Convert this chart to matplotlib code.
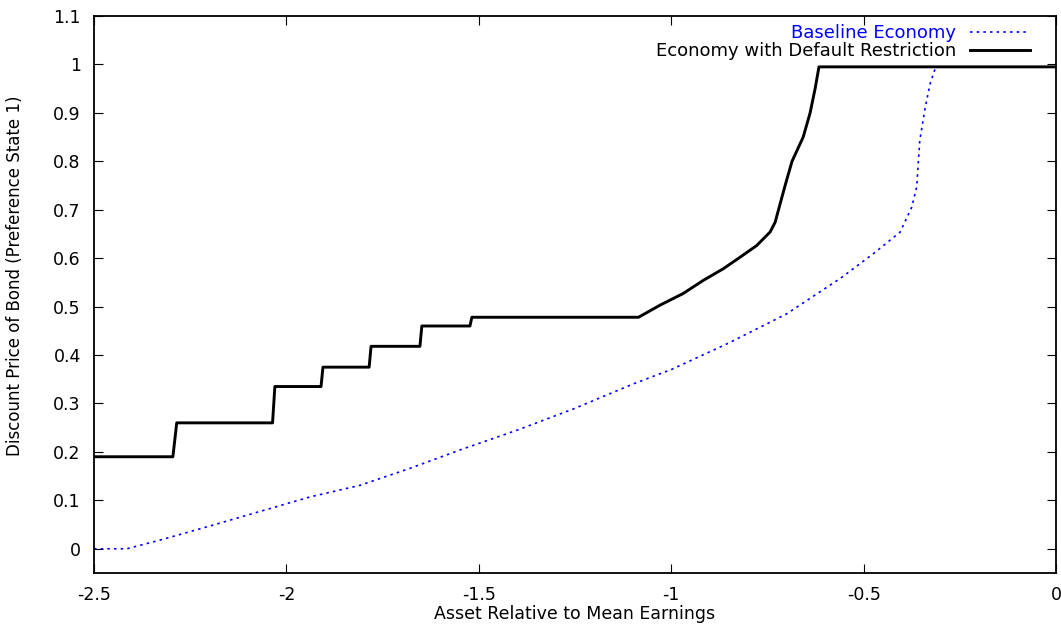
import matplotlib
matplotlib.use("Agg")
import matplotlib.pyplot as plt

plt.rcParams['font.family'] = ['DejaVu Sans']

# baseline economy (blue dotted)
base_x = [-2.5, -2.415, -2.328, -2.199, -2.069, -1.939, -1.809, -1.679, -1.549,
          -1.40, -1.25, -1.10, -1.0, -0.85, -0.70, -0.561, -0.475, -0.405,
          -0.375, -0.362, -0.354, -0.340, -0.327, -0.316, -0.31, 0.0]
base_y = [0.0, 0.0, 0.018, 0.047, 0.077, 0.107, 0.131, 0.166, 0.204,
          0.245, 0.29, 0.34, 0.37, 0.425, 0.485, 0.558, 0.609, 0.654,
          0.705, 0.747, 0.843, 0.911, 0.960, 0.987, 0.995, 0.995]

# economy with default restriction (black solid)
restr_x = [-2.5, -2.295, -2.285, -2.036, -2.03, -1.91, -1.905, -1.785, -1.78,
           -1.653, -1.648, -1.523, -1.518, -1.085, -1.029, -0.969, -0.917,
           -0.865, -0.821, -0.778, -0.743, -0.730, -0.717, -0.704, -0.686,
           -0.657, -0.639, -0.626, -0.616, 0.0]
restr_y = [0.19, 0.19, 0.26, 0.26, 0.335, 0.335, 0.375, 0.375, 0.418,
           0.418, 0.46, 0.46, 0.478, 0.478, 0.503, 0.527, 0.554,
           0.578, 0.602, 0.626, 0.654, 0.674, 0.712, 0.75, 0.80,
           0.85, 0.90, 0.95, 0.995, 0.995]

xticks = [-2.5, -2, -1.5, -1, -0.5, 0]
xtick_labels = ['-2.5', '-2', '-1.5', '-1', '-0.5', '0']
yticks = [0, 0.1, 0.2, 0.3, 0.4, 0.5, 0.6, 0.7, 0.8, 0.9, 1, 1.1]
ytick_labels = ['0', '0.1', '0.2', '0.3', '0.4', '0.5', '0.6', '0.7', '0.8', '0.9', '1', '1.1']

fig = plt.figure(figsize=(10.61, 6.27), dpi=100)
ax = fig.add_axes([94/1061, 54/627, 962/1061, 557/627])

ax.plot(base_x, base_y, color='blue', lw=1.2, linestyle=(0, (1.5, 2.5)),
        label='Baseline Economy')
ax.plot(restr_x, restr_y, color='black', lw=2.1,
        label='Economy with Default Restriction')

ax.set_xlim(-2.5, 0)
ax.set_ylim(-0.05, 1.1)
ax.set_xticks(xticks)
ax.set_xticklabels(xtick_labels)
ax.set_yticks(yticks)
ax.set_yticklabels(ytick_labels)
ax.tick_params(direction='in', length=6.5, width=0.8, labelsize=12.5,
               top=True, right=True)
ax.tick_params(axis='x', pad=9)
ax.tick_params(axis='y', pad=9.5)
for s in ax.spines.values():
    s.set_linewidth(1.3)

ax.set_xlabel('Asset Relative to Mean Earnings', fontsize=12.5, labelpad=1)
ax.set_ylabel('Discount Price of Bond (Preference State 1)', fontsize=12)
ax.yaxis.set_label_coords(-0.073, 0.533)

ax.legend(loc='upper right', bbox_to_anchor=(1030/1061, 1 - 24/627),
          bbox_transform=fig.transFigure, frameon=False, markerfirst=False,
          labelcolor='linecolor', fontsize=13, handlelength=3.3,
          handletextpad=0.8, labelspacing=0.0, borderpad=0, borderaxespad=0)

fig.savefig('out.png', dpi=100)
